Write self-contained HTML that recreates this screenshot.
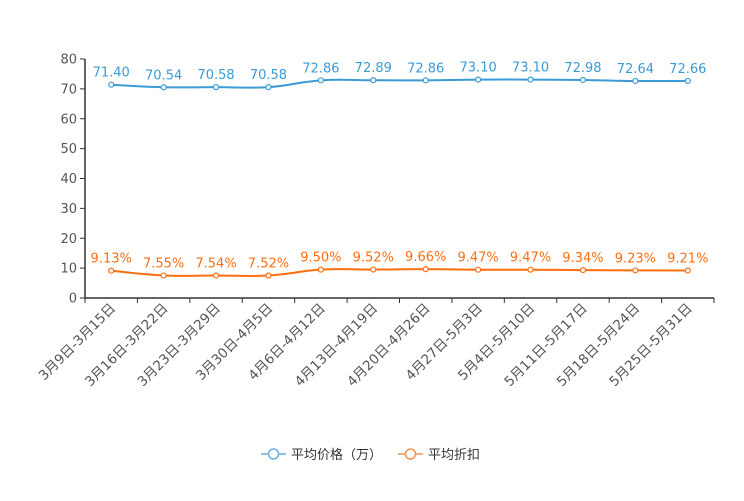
<!DOCTYPE html>
<html><head><meta charset="utf-8"><style>
body{margin:0;background:#fff;}
svg text{font-family:"DejaVu Sans","Noto Sans CJK SC",sans-serif;}
</style></head><body>
<svg id="c" width="744" height="496"></svg>
<script>
const categories=["3月9日-3月15日","3月16日-3月22日","3月23日-3月29日","3月30日-4月5日","4月6日-4月12日","4月13日-4月19日","4月20日-4月26日","4月27日-5月3日","5月4日-5月10日","5月11日-5月17日","5月18日-5月24日","5月25日-5月31日"];
const priceValues=[71.40,70.54,70.58,70.58,72.86,72.89,72.86,73.10,73.10,72.98,72.64,72.66];
const discountValues=[9.13,7.55,7.54,7.52,9.50,9.52,9.66,9.47,9.47,9.34,9.23,9.21];
const yTicks=[0,10,20,30,40,50,60,70,80];
const NS="http://www.w3.org/2000/svg";
const svg=document.getElementById('c');
const X0=85,X1=714,Y0=298,Y1=59;
const bw=(X1-X0)/categories.length;
const xs=i=>X0+bw*(i+0.5);
const ys=v=>Y0-(v/80)*(Y0-Y1);
function mk(t,a,p){const e=document.createElementNS(NS,t);for(const k in a)e.setAttribute(k,a[k]);(p||svg).appendChild(e);return e;}
const ya=mk('line',{x1:X0,y1:Y1,x2:X0,y2:Y0,stroke:'#333','stroke-width':1.5});


yTicks.forEach(v=>{
 mk('line',{x1:X0-5,y1:ys(v),x2:X0,y2:ys(v),stroke:'#333'});
 const t=mk('text',{x:X0-8,y:ys(v)+4.5,'text-anchor':'end','font-size':13,fill:'#555'});t.textContent=v;
 
 
});
const xa=mk('line',{x1:X0,y1:Y0,x2:X1,y2:Y0,stroke:'#333','stroke-width':1.5});


for(let i=0;i<=categories.length;i++)mk('line',{x1:X0+bw*i,y1:Y0,x2:X0+bw*i,y2:Y0+5,stroke:'#333'});
categories.forEach((c,i)=>{
 const x=xs(i)+5,y=Y0+11;
 const t=mk('text',{x:x,y:y,'text-anchor':'end','font-size':13.5,fill:'#555',transform:`rotate(-45 ${x} ${y})`});t.textContent=c;
 
 
});
function smooth(pts){
 let d=`M${pts[0][0]},${pts[0][1]}`;
 for(let i=0;i<pts.length-1;i++){
  const p0=pts[i-1]||pts[i],p1=pts[i],p2=pts[i+1],p3=pts[i+2]||p2;
  const k=0.2;
  const c1=[p1[0]+(p2[0]-p0[0])*k,p1[1]+(p2[1]-p0[1])*k];
  const c2=[p2[0]-(p3[0]-p1[0])*k,p2[1]-(p3[1]-p1[1])*k];
  d+=` C${c1[0]},${c1[1]} ${c2[0]},${c2[1]} ${p2[0]},${p2[1]}`;
 }
 return d;
}
function series(vals,color,name,suffix){
 const g=mk('g',{});
 
 
 const pts=vals.map((v,i)=>[xs(i),ys(v)]);
 mk('path',{d:smooth(pts),fill:'none',stroke:color,'stroke-width':2},g);
 vals.forEach((v,i)=>{
  const c=mk('circle',{cx:pts[i][0],cy:pts[i][1],r:2.5,fill:'#fff',stroke:color,'stroke-width':1.2},g);
  
  
  const t=mk('text',{x:pts[i][0],y:pts[i][1]-8,'text-anchor':'middle','font-size':13,fill:color},g);
  t.textContent=v.toFixed(2)+suffix;
  
  
 });
}
series(priceValues,'#3a9bd5','price','');
series(discountValues,'#ff6e0f','discount','%');
function legend(x,color,label,name){
 const g=mk('g',{});
 
 
 mk('line',{x1:x,y1:454,x2:x+25,y2:454,stroke:color,'stroke-width':1.5},g);
 mk('circle',{cx:x+12.5,cy:454,r:5,fill:'#fff',stroke:color,'stroke-width':1.5},g);
 const t=mk('text',{x:x+30,y:459,'font-size':13,fill:'#333'},g);t.textContent=label;
}
legend(261,'#6ab0e0','平均价格（万）','legend-price');
legend(398,'#f89050','平均折扣','legend-discount');
</script>
</body></html>
